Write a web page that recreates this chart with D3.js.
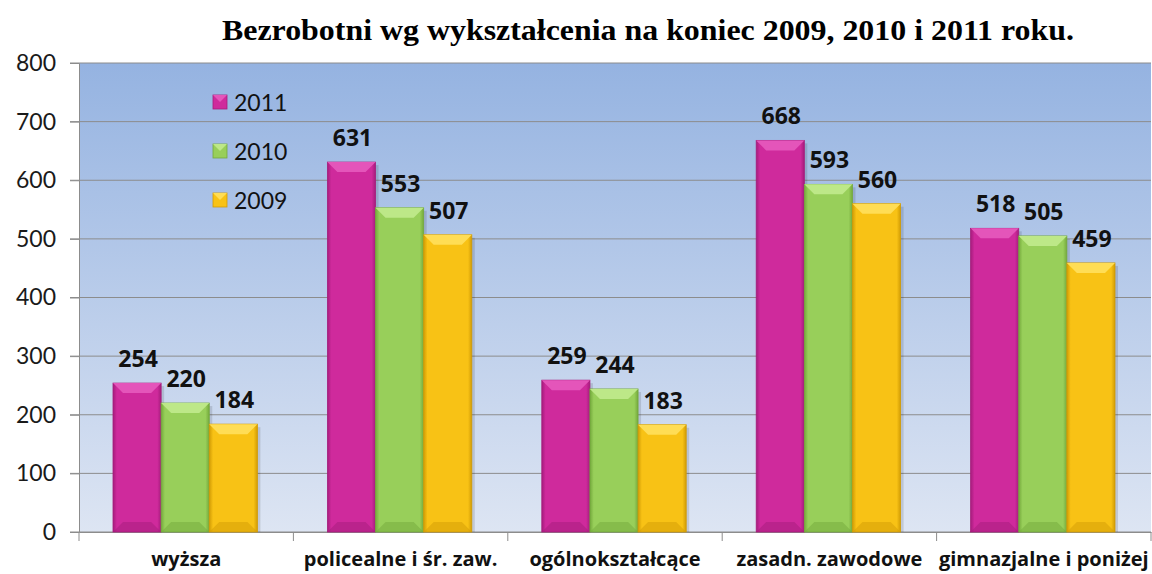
<!DOCTYPE html>
<html>
<head>
<meta charset="utf-8">
<script src="https://cdn.jsdelivr.net/npm/d3@7"></script>
<style>
  body { margin: 0; background: #fff; }
  text { font-family: Lato, "Open Sans", sans-serif; }
</style>
</head>
<body>
<svg id="chart" width="1152" height="574"></svg>
<script>
const categories = ["wyższa", "policealne i śr. zaw.", "ogólnokształcące", "zasadn. zawodowe", "gimnazjalne i poniżej"];
const years = ["2011", "2010", "2009"];
const values2011 = [254, 631, 259, 668, 518];
const values2010 = [220, 553, 244, 593, 505];
const values2009 = [184, 507, 183, 560, 459];
const yTicks = [0, 100, 200, 300, 400, 500, 600, 700, 800];

const seriesValues = { "2011": values2011, "2010": values2010, "2009": values2009 };
const colors = { "2011": ["#e455ba", "#cf2a9c", "#a51c7c"], "2010": ["#bde888", "#98cf5a", "#74a93c"], "2009": ["#ffdd55", "#f8c215", "#d19c05"] };

const svg = d3.select("#chart");
const plotLeft = 79, plotRight = 1151, plotTop = 63, plotBottom = 532;

const x = d3.scaleBand().domain(categories).range([plotLeft, plotRight]);
const x1 = d3.scaleBand().domain(years).range([34, x.bandwidth() - 36]);
const y = d3.scaleLinear().domain([0, 800]).range([plotBottom, plotTop]);

const defs = svg.append("defs");
const bg = defs.append("linearGradient").attr("id", "bg").attr("x1", 0).attr("y1", 0).attr("x2", 0).attr("y2", 1);
bg.append("stop").attr("offset", "0%").attr("stop-color", "#95b3e1");
bg.append("stop").attr("offset", "100%").attr("stop-color", "#dde5f3");

years.forEach(yr => {
  const g = defs.append("linearGradient").attr("id", "g" + yr).attr("x1", 0).attr("y1", 0).attr("x2", 1).attr("y2", 0);
  g.append("stop").attr("offset", "0%").attr("stop-color", colors[yr][2]);
  g.append("stop").attr("offset", "8%").attr("stop-color", colors[yr][1]);
  g.append("stop").attr("offset", "92%").attr("stop-color", colors[yr][1]);
  g.append("stop").attr("offset", "100%").attr("stop-color", colors[yr][2]);
});

// title
svg.append("text")
  .attr("x", 648).attr("y", 40)
  .attr("text-anchor", "middle")
  .style("font-family", "'Liberation Serif', 'DejaVu Serif', serif")
  .style("font-weight", "bold")
  .style("font-size", "30px")
  .attr("textLength", 852).attr("lengthAdjust", "spacingAndGlyphs")
  .text("Bezrobotni wg wykształcenia na koniec 2009, 2010 i 2011 roku.");

// plot background
svg.append("rect").attr("x", plotLeft).attr("y", plotTop).attr("width", plotRight - plotLeft).attr("height", plotBottom - plotTop).attr("fill", "url(#bg)");

// grid
svg.append("g").selectAll("line").data(yTicks).join("line")
  .attr("x1", plotLeft - 9).attr("x2", plotRight)
  .attr("y1", d => y(d)).attr("y2", d => y(d))
  .attr("stroke", "#8c8c8c").attr("stroke-width", 1);

// y axis
const yAxis = svg.append("g").attr("transform", `translate(${plotLeft},0)`)
  .call(d3.axisLeft(y).tickValues(yTicks).tickSize(9).tickPadding(14));
yAxis.select(".domain").attr("stroke", "#8c8c8c");
yAxis.selectAll(".tick line").attr("stroke", "#8c8c8c");
yAxis.selectAll("text").style("font-size", "23px").style("font-family", "Lato, 'Open Sans', sans-serif").attr("fill", "#1a1a1a");

// x axis
const xAxis = svg.append("g").attr("transform", `translate(0,${plotBottom})`)
  .call(d3.axisBottom(x).tickSize(0).tickPadding(20));
xAxis.select(".domain").attr("stroke", "#8c8c8c");
xAxis.selectAll("text").style("font-size", "20px").style("font-weight", "bold").style("font-family", "'Open Sans', Lato, sans-serif").attr("fill", "#111");
svg.append("g").selectAll("line").data(categories.concat([null])).join("line")
  .attr("x1", (d, i) => i < categories.length ? x(d) : plotRight)
  .attr("x2", (d, i) => i < categories.length ? x(d) : plotRight)
  .attr("y1", plotBottom).attr("y2", plotBottom + 9)
  .attr("stroke", "#8c8c8c");

// bars
const groups = svg.append("g").selectAll("g").data(categories).join("g")
  .attr("transform", d => `translate(${x(d)},0)`);

years.forEach(yr => {
  groups.each(function(cat, i) {
    const g = d3.select(this);
    const v = seriesValues[yr][i];
    const bx = x1(yr), bw = x1.bandwidth();
    const by = y(v), bh = plotBottom - by;
    // shadow
    g.append("rect").attr("x", bx + 3).attr("y", by + 3).attr("width", bw).attr("height", bh - 3)
      .attr("fill", "#000").attr("opacity", 0.12);
    g.append("rect").attr("x", bx).attr("y", by).attr("width", bw).attr("height", bh)
      .attr("fill", `url(#g${yr})`).attr("stroke", colors[yr][2]).attr("stroke-width", 0.8);
    const b = 10;
    // top bevel
    g.append("path")
      .attr("d", `M${bx},${by}L${bx + bw},${by}L${bx + bw - b},${by + b}L${bx + b},${by + b}Z`)
      .attr("fill", colors[yr][0]);
    // bottom bevel
    g.append("path")
      .attr("d", `M${bx},${plotBottom}L${bx + bw},${plotBottom}L${bx + bw - b},${plotBottom - b}L${bx + b},${plotBottom - b}Z`)
      .attr("fill", colors[yr][2]).attr("opacity", 0.5);
    // label
    g.append("text")
      .attr("x", bx + bw / 2 + 1).attr("y", by - 16)
      .attr("text-anchor", "middle")
      .style("font-size", "23px").style("font-weight", "bold")
      .style("font-family", "'Open Sans', Lato, sans-serif")
      .attr("fill", "#111")
      .text(v);
  });
});

// legend
const legend = svg.append("g").selectAll("g").data(years).join("g")
  .attr("transform", (d, i) => `translate(213,${95 + i * 49})`);
legend.append("rect").attr("width", 14).attr("height", 14)
  .attr("fill", d => colors[d][1]).attr("stroke", d => colors[d][2]).attr("stroke-width", 0.8);
legend.append("path").attr("d", "M0,0L14,0L7,7Z").attr("fill", d => colors[d][0]);
legend.append("text").attr("x", 21).attr("y", 16)
  .style("font-size", "23px").attr("fill", "#111")
  .text(d => d);
</script>
</body>
</html>
